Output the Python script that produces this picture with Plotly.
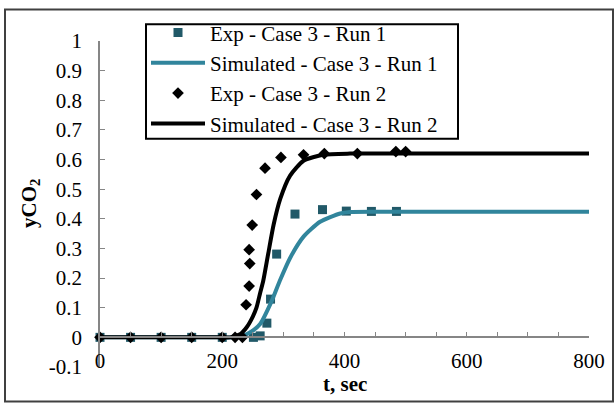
import plotly.graph_objects as go

# Experimental breakthrough data, Case 3
t_exp_run1 = [0, 50, 100, 150, 200, 251, 262, 273, 279, 289, 319, 364, 403, 444, 485]
y_exp_run1 = [0, 0, 0, 0, 0, 0, 0.005, 0.048, 0.129, 0.281, 0.416, 0.431, 0.426, 0.425, 0.425]

t_exp_run2 = [0, 50, 100, 150, 200, 221, 233, 239, 244, 245, 244, 249, 256, 270, 296,
              333, 367, 421, 484, 500]
y_exp_run2 = [0, 0, 0, 0, 0, 0, 0, 0.11, 0.173, 0.249, 0.296, 0.379, 0.482, 0.571, 0.607,
              0.616, 0.62, 0.62, 0.627, 0.627]

# Simulated breakthrough curves, Case 3
t_sim_run1 = [0, 200, 225, 234, 248, 262, 281, 294, 311, 333, 360, 393, 409, 450, 500, 600, 700, 800]
y_sim_run1 = [0, 0, 0, 0.005, 0.02, 0.045, 0.123, 0.19, 0.268, 0.34, 0.39, 0.418, 0.423, 0.424,
              0.424, 0.424, 0.424, 0.424]

t_sim_run2 = [0, 200, 213, 230, 240, 250, 256, 262, 267, 275, 284, 295, 311, 333, 365, 409,
              450, 500, 600, 700, 800]
y_sim_run2 = [0, 0, 0, 0.012, 0.034, 0.07, 0.10, 0.15, 0.19, 0.28, 0.38, 0.468, 0.546, 0.596,
              0.616, 0.62, 0.62, 0.62, 0.62, 0.62, 0.62]

x_ticks = list(range(0, 801, 50))
x_ticktext = [str(v) if v % 200 == 0 else "" for v in x_ticks]
y_ticks = [-0.1, 0, 0.1, 0.2, 0.3, 0.4, 0.5, 0.6, 0.7, 0.8, 0.9, 1.0]
y_ticktext = ["-0.1", "0", "0.1", "0.2", "0.3", "0.4", "0.5", "0.6", "0.7", "0.8", "0.9", "1"]

FONT = "Liberation Serif, Times New Roman, DejaVu Serif, serif"
FS = 21
TEAL = "#31859C"
TEAL_DARK = "#215968"
AXIS_GRAY = "#868686"

# plot area in pixels: left 100, right 589, top 37, bottom 367
PL, PW, PB, PH = 100, 489, 367, 330


def px_x(p):
    return (p - PL) / PW


def px_y(p):
    return (PB - p) / PH


fig = go.Figure()
fig.add_trace(go.Scatter(
    x=t_exp_run1, y=y_exp_run1, mode="markers", name="Exp - Case 3 - Run 1",
    marker=dict(symbol="square", size=9, color=TEAL_DARK), cliponaxis=False))
fig.add_trace(go.Scatter(
    x=t_sim_run1, y=y_sim_run1, mode="lines", name="Simulated - Case 3 - Run 1",
    line=dict(color=TEAL, width=4, shape="spline", smoothing=0.6), cliponaxis=False))
fig.add_trace(go.Scatter(
    x=t_exp_run2, y=y_exp_run2, mode="markers", name="Exp - Case 3 - Run 2",
    marker=dict(symbol="diamond", size=9, color="black"), cliponaxis=False))
fig.add_trace(go.Scatter(
    x=t_sim_run2, y=y_sim_run2, mode="lines", name="Simulated - Case 3 - Run 2",
    line=dict(color="black", width=4, shape="spline", smoothing=0.6), cliponaxis=False))

y_min, y_max = -0.1, 1.0

fig.update_layout(
    width=616, height=403,
    margin=dict(l=100, r=27, t=37, b=36),
    paper_bgcolor="white", plot_bgcolor="white",
    font=dict(family=FONT, size=FS, color="black"),
    showlegend=True,
    legend=dict(
        x=px_x(146), y=px_y(8), xanchor="left", yanchor="top",
        bgcolor="rgba(0,0,0,0)", borderwidth=0,
        font=dict(family=FONT, size=FS, color="black"),
        itemwidth=54, tracegroupgap=0,
    ),
    xaxis=dict(
        range=[0, 800], anchor="free", position=(0 - y_min) / (y_max - y_min),
        tickvals=x_ticks, ticktext=x_ticktext, ticks="inside", ticklen=5,
        tickcolor=AXIS_GRAY, showline=True, linecolor=AXIS_GRAY, linewidth=1.5,
        showgrid=False, zeroline=False, ticklabelstandoff=5,
        tickfont=dict(family=FONT, size=FS, color="black"),
    ),
    yaxis=dict(
        range=[y_min, y_max], tickvals=y_ticks, ticktext=y_ticktext,
        ticks="inside", ticklen=5, tickcolor=AXIS_GRAY,
        showline=True, linecolor=AXIS_GRAY, linewidth=1.5,
        showgrid=False, zeroline=False, ticklabelstandoff=12,
        tickfont=dict(family=FONT, size=FS, color="black"),
    ),
    annotations=[
        dict(text="<b>t, sec</b>", xref="paper", yref="paper", x=0.5, y=px_y(384),
             xanchor="center", yanchor="middle", showarrow=False,
             font=dict(family=FONT, size=FS, color="black")),
        dict(text="<b>yCO<sub>2</sub></b>", xref="paper", yref="paper",
             x=px_x(30), y=0.5, xanchor="center", yanchor="middle",
             textangle=-90, showarrow=False,
             font=dict(family=FONT, size=FS, color="black")),
    ],
    shapes=[
        # chart frame
        dict(type="rect", xref="paper", yref="paper",
             x0=px_x(5), x1=px_x(613), y0=px_y(402), y1=px_y(5),
             line=dict(color="#404040", width=2), layer="below"),
        # legend frame
        dict(type="rect", xref="paper", yref="paper",
             x0=px_x(146), x1=px_x(458), y0=px_y(136), y1=px_y(20),
             line=dict(color="black", width=2), fillcolor="white", layer="above"),
    ],
)

fig.write_html("out.html")
